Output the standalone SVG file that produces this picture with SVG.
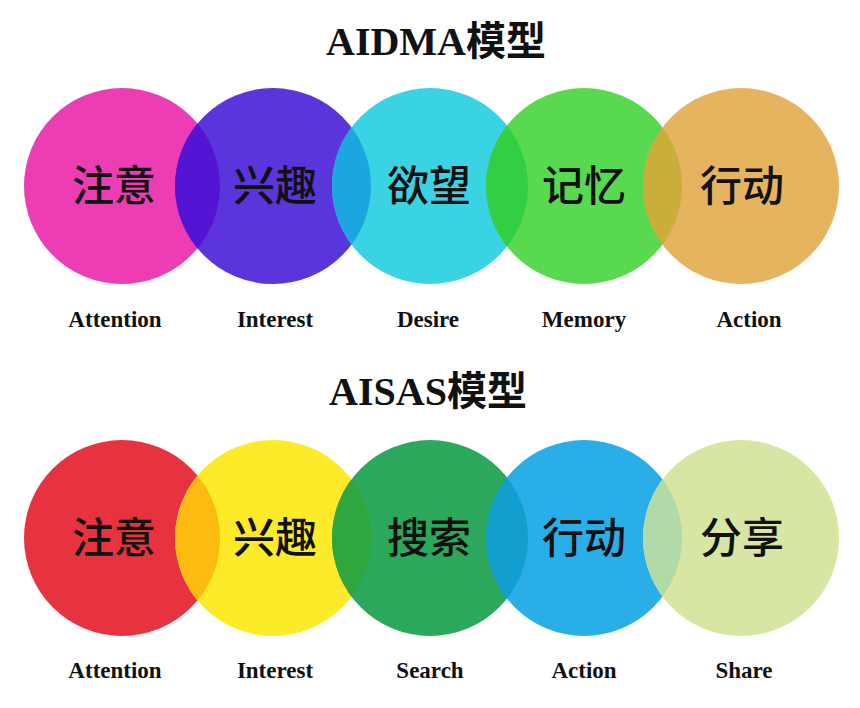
<svg xmlns="http://www.w3.org/2000/svg" width="860" height="708" viewBox="0 0 860 708">
<style>
.title{font-family:"Liberation Serif","Noto Sans CJK SC",serif;font-weight:bold;font-size:40px;fill:#111;text-anchor:middle}
.cn{font-family:"Noto Sans CJK SC",sans-serif;font-weight:500;font-size:42px;fill:#111;text-anchor:middle}
.en{font-family:"Liberation Serif",serif;font-weight:bold;font-size:23px;fill:#111;text-anchor:middle}
</style>
<defs>
<clipPath id="t1"><circle cx="122" cy="186" r="98"/></clipPath>
<clipPath id="t2"><circle cx="273" cy="186" r="98"/></clipPath>
<clipPath id="t3"><circle cx="430" cy="186" r="98"/></clipPath>
<clipPath id="t4"><circle cx="584" cy="186" r="98"/></clipPath>
<clipPath id="b1"><circle cx="122" cy="538" r="98"/></clipPath>
<clipPath id="b2"><circle cx="273" cy="538" r="98"/></clipPath>
<clipPath id="b3"><circle cx="430" cy="538" r="98"/></clipPath>
<clipPath id="b4"><circle cx="584" cy="538" r="98"/></clipPath>
</defs>
<rect width="860" height="708" fill="#ffffff"/>
<text class="title" x="436" y="55">AIDMA模型</text>
<text class="title" x="428" y="405">AISAS模型</text>
<g id="aidma-attention">
<circle cx="122" cy="186" r="98" fill="#EC3DB4"/>
<text class="cn" x="114" y="201">注意</text>
<text class="en" x="115" y="327">Attention</text>
</g>
<g id="aidma-interest">
<circle cx="273" cy="186" r="98" fill="#5B35DC"/>
<circle cx="273" cy="186" r="98" fill="#5315D3" clip-path="url(#t1)"/>
<text class="cn" x="275" y="201">兴趣</text>
<text class="en" x="275" y="327">Interest</text>
</g>
<g id="aidma-desire">
<circle cx="430" cy="186" r="98" fill="#3AD3E3"/>
<circle cx="430" cy="186" r="98" fill="#1CA5DE" clip-path="url(#t2)"/>
<text class="cn" x="429" y="201">欲望</text>
<text class="en" x="428" y="327">Desire</text>
</g>
<g id="aidma-memory">
<circle cx="584" cy="186" r="98" fill="#58D94F"/>
<circle cx="584" cy="186" r="98" fill="#32CF45" clip-path="url(#t3)"/>
<text class="cn" x="584" y="201">记忆</text>
<text class="en" x="584" y="327">Memory</text>
</g>
<g id="aidma-action">
<circle cx="741" cy="186" r="98" fill="#E6B45E"/>
<circle cx="741" cy="186" r="98" fill="#C9AE3C" clip-path="url(#t4)"/>
<text class="cn" x="742" y="201">行动</text>
<text class="en" x="749" y="327">Action</text>
</g>
<g id="aisas-attention">
<circle cx="122" cy="538" r="98" fill="#E7333F"/>
<text class="cn" x="114" y="553">注意</text>
<text class="en" x="115" y="678">Attention</text>
</g>
<g id="aisas-interest">
<circle cx="273" cy="538" r="98" fill="#FDEB2A"/>
<circle cx="273" cy="538" r="98" fill="#FDBA10" clip-path="url(#b1)"/>
<text class="cn" x="275" y="553">兴趣</text>
<text class="en" x="275" y="678">Interest</text>
</g>
<g id="aisas-search">
<circle cx="430" cy="538" r="98" fill="#2BA85C"/>
<circle cx="430" cy="538" r="98" fill="#30A63E" clip-path="url(#b2)"/>
<text class="cn" x="429" y="553">搜索</text>
<text class="en" x="430" y="678">Search</text>
</g>
<g id="aisas-action">
<circle cx="584" cy="538" r="98" fill="#2AAEE8"/>
<circle cx="584" cy="538" r="98" fill="#119FCF" clip-path="url(#b3)"/>
<text class="cn" x="584" y="553">行动</text>
<text class="en" x="584" y="678">Action</text>
</g>
<g id="aisas-share">
<circle cx="741" cy="538" r="98" fill="#D7E6A2"/>
<circle cx="741" cy="538" r="98" fill="#B2DAA9" clip-path="url(#b4)"/>
<text class="cn" x="742" y="553">分享</text>
<text class="en" x="744" y="678">Share</text>
</g>
<g id="connectors"/>
</svg>
